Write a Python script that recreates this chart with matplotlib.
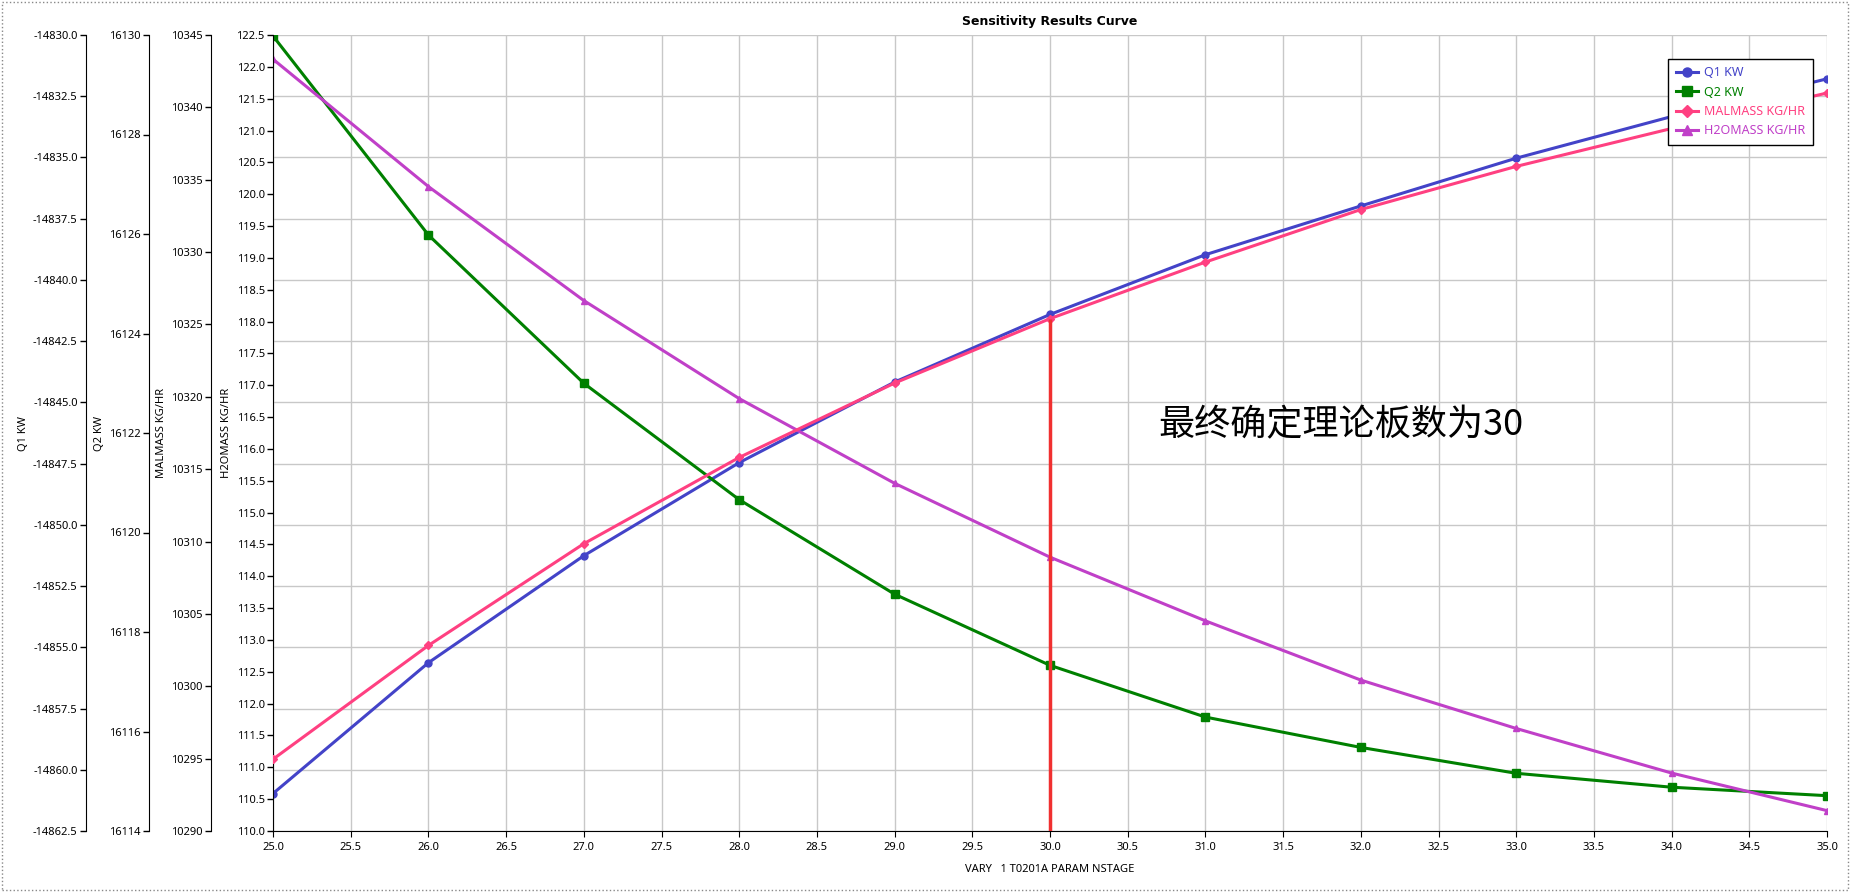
import matplotlib.pyplot as plt
from matplotlib.patches import Rectangle
from matplotlib.ticker import FormatStrFormatter
import numpy as np

plt.rcParams['font.family'] = ['Noto Sans', 'DejaVu Sans']
plt.rcParams['font.size'] = 8

# number of stages (x) and the four result series
stages = [25, 26, 27, 28, 29, 30, 31, 32, 33, 34, 35]
q1_kw = [-14860.97, -14855.63, -14851.26, -14847.46, -14844.17, -14841.41,
         -14838.97, -14836.98, -14835.03, -14833.33, -14831.79]
q2_kw = [16129.98, 16125.98, 16123.00, 16120.66, 16118.76, 16117.33,
         16116.29, 16115.68, 16115.16, 16114.88, 16114.71]
malmass = [10294.96, 10302.82, 10309.85, 10315.81, 10320.95, 10325.40,
           10329.31, 10332.94, 10335.92, 10338.54, 10340.99]
h2omass = [122.12, 120.12, 118.33, 116.79, 115.46, 114.30,
           113.30, 112.37, 111.61, 110.91, 110.32]
chosen_stage = 30

W, H = 1852, 894
fig = plt.figure(figsize=(W / 100, H / 100), dpi=100)
left, right, top, bottom = 273, 1827, 35, 831
rect = [left / W, 1 - bottom / H, (right - left) / W, (bottom - top) / H]
span = right - left

ax_q1 = fig.add_axes(rect)
ax_q2 = fig.add_axes(rect, sharex=ax_q1)
ax_h2o = fig.add_axes(rect, sharex=ax_q1)
ax_mal = fig.add_axes(rect, sharex=ax_q1)

# axis setup: (axes, spine x in px, limits, ticks, format, label)
setup = [
    (ax_q1, 86, (-14862.5, -14830.0), np.arange(-14862.5, -14829.9, 2.5), '%.1f', 'Q1 KW'),
    (ax_q2, 149, (16114, 16130), np.arange(16114, 16131, 2), '%d', 'Q2 KW'),
    (ax_mal, 211, (10290, 10345), np.arange(10290, 10346, 5), '%d', 'MALMASS KG/HR'),
    (ax_h2o, 273, (110.0, 122.5), np.arange(110.0, 122.51, 0.5), '%.1f', 'H2OMASS KG/HR'),
]
for ax, sx, lim, ticks, fmt, lab in setup:
    ax.set_ylim(*lim)
    ax.set_yticks(ticks)
    ax.yaxis.set_major_formatter(FormatStrFormatter(fmt))
    ax.spines['left'].set_position(('axes', (sx - left) / span))
    ax.spines['right'].set_visible(False)
    ax.spines['top'].set_visible(False)
    ax.tick_params(axis='y', direction='out', length=4, width=1, pad=2)
    ax.set_ylabel(lab, labelpad=3)
    if ax is not ax_q1:
        ax.patch.set_visible(False)
        ax.spines['bottom'].set_visible(False)
        ax.tick_params(axis='x', bottom=False, labelbottom=False)

ax_q1.set_xlim(25, 35)
ax_q1.set_xticks(np.arange(25, 35.01, 0.5))
ax_q1.xaxis.set_major_formatter(FormatStrFormatter('%.1f'))
ax_q1.tick_params(axis='x', direction='out', length=4, pad=4)
ax_q1.grid(True, color='#c8c8c8', linewidth=1)
ax_q1.set_xlabel('VARY   1 T0201A PARAM NSTAGE', labelpad=8)
ax_q1.set_title('Sensitivity Results Curve', fontsize=9, fontweight='bold',
                family='DejaVu Sans', pad=7)

l1, = ax_q1.plot(stages, q1_kw, color='#4343c8', marker='o', markersize=5, linewidth=2.2, label='Q1 KW')
l2, = ax_q2.plot(stages, q2_kw, color='#008000', marker='s', markersize=5.5, linewidth=2.2, label='Q2 KW')
l4, = ax_h2o.plot(stages, h2omass, color='#c040c8', marker='^', markersize=5, linewidth=2.2, label='H2OMASS KG/HR')
l3, = ax_mal.plot(stages, malmass, color='#ff4081', marker='D', markersize=4.5, linewidth=2.2, label='MALMASS KG/HR')

# vertical marker at the chosen stage, up to the MALMASS point
i = stages.index(chosen_stage)
ax_mal.vlines(chosen_stage, ax_mal.get_ylim()[0], malmass[i], color='#f03030', linewidth=2.5, zorder=5)
ax_mal.text(30.7, 0.51, '最终确定理论板数为30', transform=ax_mal.get_xaxis_transform(),
            fontsize=26, va='center', ha='left', family=['Noto Sans CJK SC', 'DejaVu Sans'])

leg = ax_mal.legend(handles=[l1, l2, l3, l4], loc='upper right', bbox_to_anchor=(0.991, 0.97),
                    borderaxespad=0, fancybox=False, framealpha=1, edgecolor='black',
                    labelcolor='linecolor', fontsize=9, handlelength=1.8, handletextpad=0.5,
                    borderpad=0.6, labelspacing=0.5, markerscale=1.3)
leg.get_frame().set_linewidth(1)

fig.add_artist(Rectangle((0.001, 0.004), 0.997, 0.994, transform=fig.transFigure,
                         fill=False, linestyle=':', edgecolor='#888888', linewidth=1))

fig.savefig('out.png', dpi=100)
